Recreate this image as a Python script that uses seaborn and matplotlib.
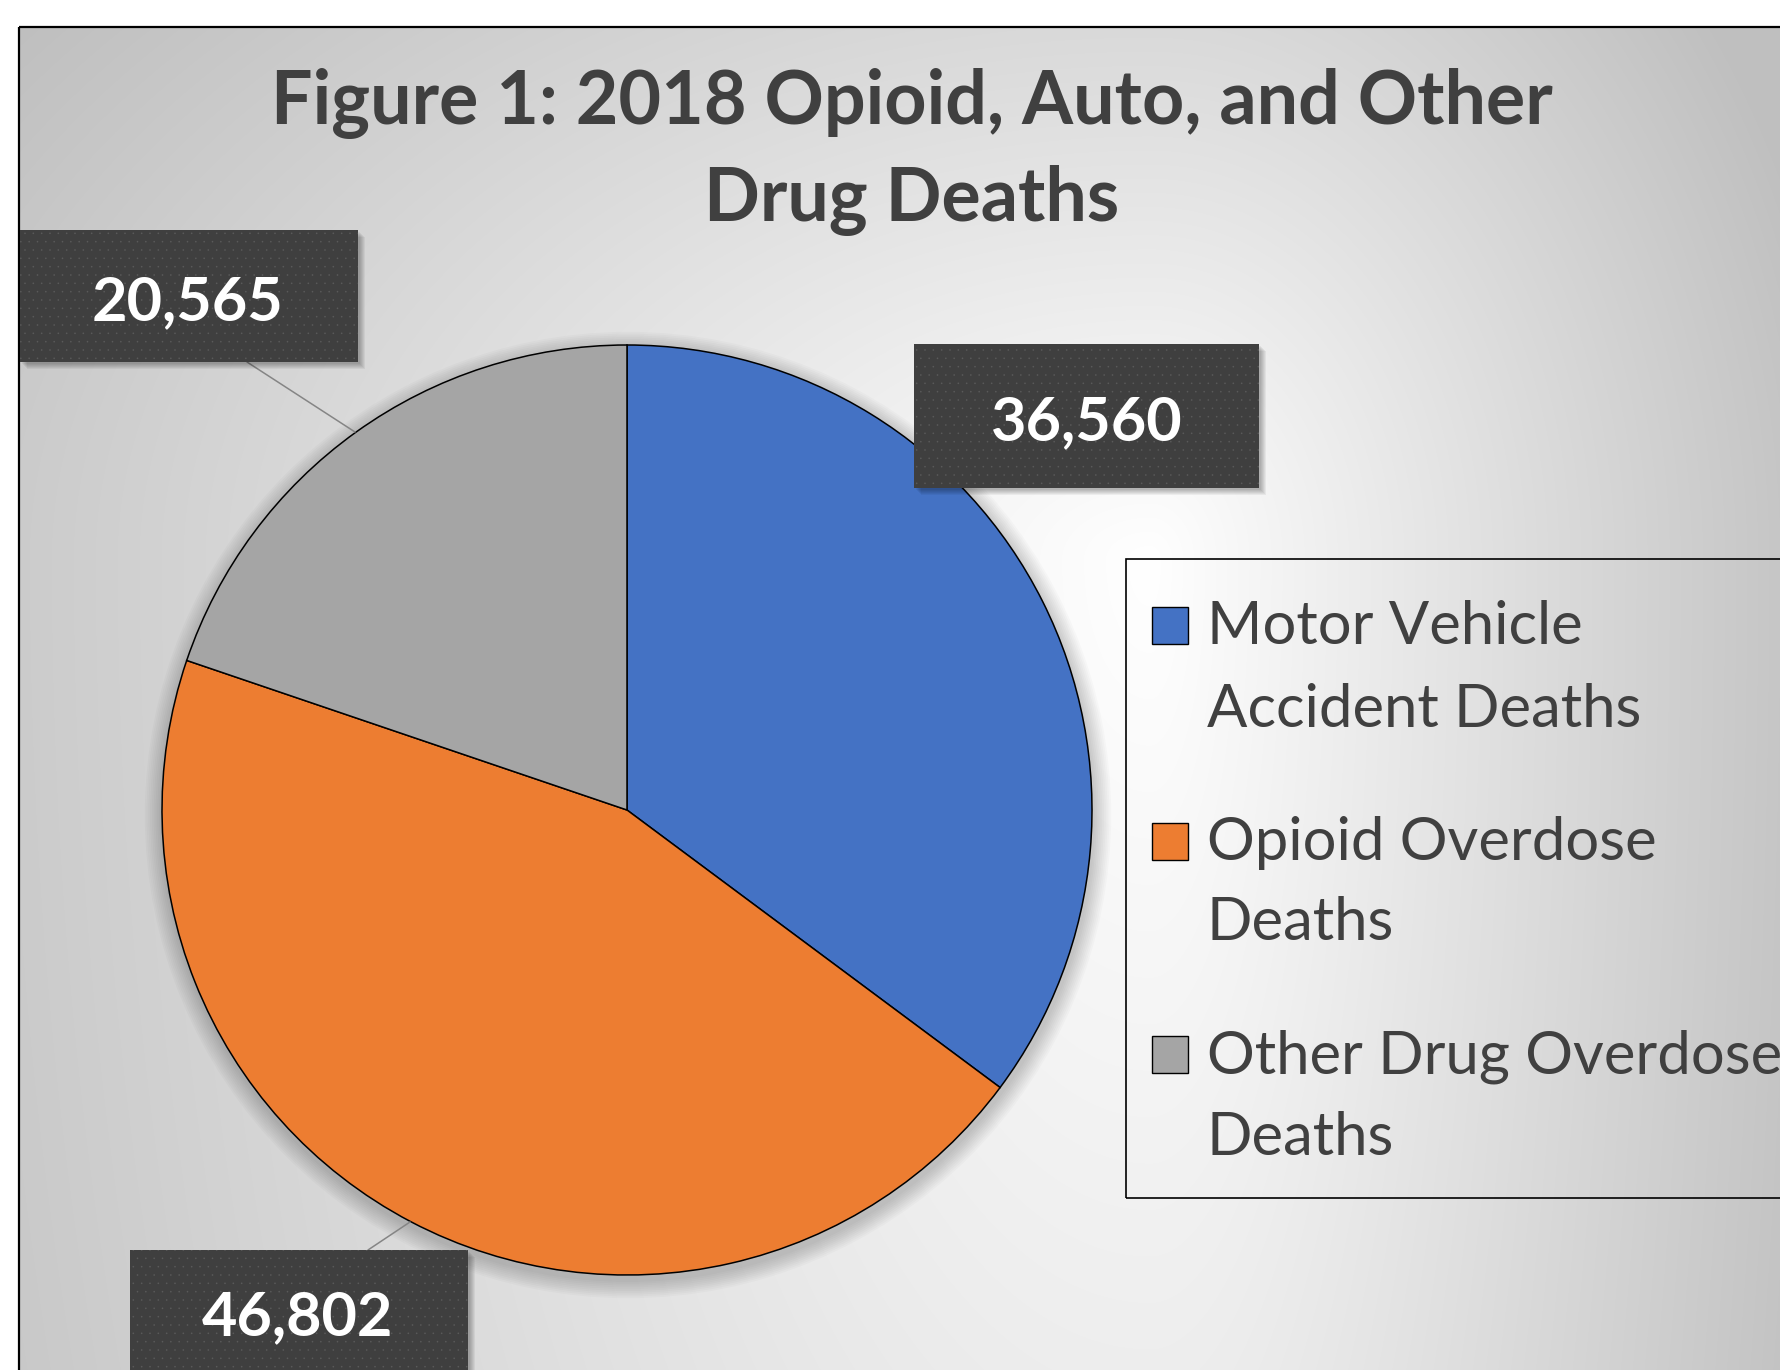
import numpy as np
import matplotlib
matplotlib.use("Agg")
import matplotlib.pyplot as plt
from matplotlib.patches import Rectangle, Circle
import seaborn as sns

# ---- data ----
categories = ["Motor Vehicle Accident Deaths", "Opioid Overdose Deaths", "Other Drug Overdose Deaths"]
legend_lines = [["Motor Vehicle", "Accident Deaths"], ["Opioid Overdose", "Deaths"], ["Other Drug Overdose", "Deaths"]]
deaths = [36560, 46802, 20565]
colors = ["#4472C4", "#ED7D31", "#A5A5A5"]
title_lines = ["Figure 1: 2018 Opioid, Auto, and Other", "Drug Deaths"]

sns.set_theme(style="white")
plt.rcParams["font.family"] = ["Lato", "DejaVu Sans"]
plt.rcParams["hatch.linewidth"] = 0.0

W, H = 1781, 1370
fig = plt.figure(figsize=(W / 100, H / 100), dpi=100)
ax = fig.add_axes([0, 0, 1, 1])


def py(y):
    return H - y


# ---- background gradient ----
xs = np.arange(W) + 0.5
ys = np.arange(H) + 0.5
X, Y = np.meshgrid(xs, ys)
cx, cy = 1150, 560
dx = X - cx
dy = Y - cy
sx = np.where(dx > 0, 705.0, 1400.0)
sy = np.where(dy > 0, 2960.0, 900.0)
g = np.clip(np.sqrt((dx / sx) ** 2 + (dy / sy) ** 2), 0, 1)
v = 1 - 0.25 * g
img = np.dstack([v, v, v])
img[:27, :] = 1
img[:, :19] = 1
ax.imshow(img, extent=(0, W, 0, H), origin="upper", zorder=0, interpolation="bilinear")

# frame
ax.plot([19, 19], [py(27), -5], color="black", lw=1.6, zorder=1, solid_capstyle="butt")
ax.plot([19, W + 5], [py(27), py(27)], color="black", lw=1.6, zorder=1, solid_capstyle="butt")

# ---- pie ----
pcx, pcy, R = 627, 810, 465
for k in range(10):
    ax.add_patch(Circle((pcx + 1, py(pcy + 5)), R + 2 + k * 1.8, facecolor="black",
                        edgecolor="none", alpha=0.018, zorder=1.5))
wedges, _ = ax.pie(deaths, colors=colors, startangle=90, counterclock=False,
                   center=(pcx, py(pcy)), radius=R, frame=True,
                   wedgeprops=dict(edgecolor="black", linewidth=1.1, zorder=2))

# leader lines
ax.plot([247, 355], [py(362), py(432)], color="#858585", lw=1.1, zorder=2.5)
ax.plot([368, 410], [py(1250), py(1222)], color="#858585", lw=1.1, zorder=2.5)

# ---- data label boxes ----
label_boxes = [  # x0, y0, x1, y1 (pixels, top-left origin) for each category order
    (914, 344, 1259, 488),
    (130, 1250, 468, 1385),
    (20, 230, 358, 362),
]
label_text_pos = [(1087, 440), (298, 1335), (188, 320)]
for val, (x0, y0, x1, y1), (tx, ty) in zip(deaths, label_boxes, label_text_pos):
    for k in range(6):
        ax.add_patch(Rectangle((x0 + 2 + k, py(y1 + 2 + k)), x1 - x0, y1 - y0,
                               facecolor="black", edgecolor="none", alpha=0.05, zorder=3))
    ax.add_patch(Rectangle((x0, py(y1)), x1 - x0, y1 - y0, facecolor="#3f3f3f",
                           edgecolor="#5a5a5a", linewidth=0, hatch="..", zorder=3.2))
    ax.text(tx, py(ty), f"{val:,}", color="white", fontsize=44, fontweight="bold",
            ha="center", va="baseline", zorder=4)

# ---- title ----
title_baselines = [124, 221]
for line, b in zip(title_lines, title_baselines):
    ax.text(912, py(b), line, color="#404040", fontsize=53, fontweight="bold",
            ha="center", va="baseline", zorder=4)

# ---- legend ----
ax.add_patch(Rectangle((1126, py(1198)), W + 20 - 1126, 1198 - 559, facecolor="none",
                       edgecolor="black", linewidth=1.2, zorder=4))
legend_baselines = [(644, 727), (860, 940), (1073, 1155)]
for col, lines, bls in zip(colors, legend_lines, legend_baselines):
    ax.add_patch(Rectangle((1152, py(bls[0])), 36, 37, facecolor=col, edgecolor="black",
                           linewidth=1.0, zorder=4))
    for line, b in zip(lines, bls):
        ax.text(1207, py(b), line, color="#404040", fontsize=43, ha="left",
                va="baseline", zorder=4)

ax.set_xlim(0, W)
ax.set_ylim(0, H)
ax.set_aspect("auto")
ax.set_axis_off()
fig.savefig("out.png", dpi=100)
